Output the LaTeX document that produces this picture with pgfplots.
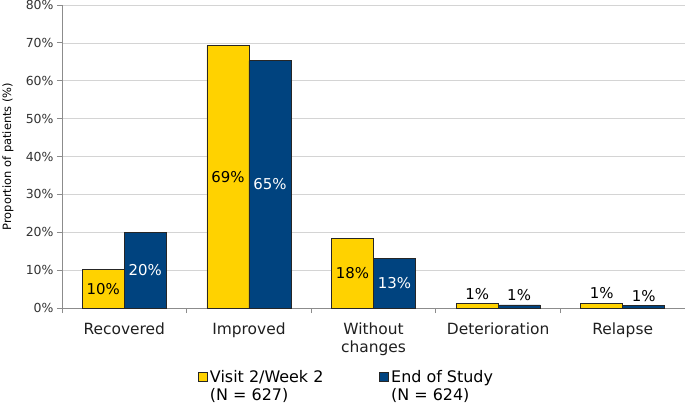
\documentclass[border=0pt]{standalone}
\usepackage{fontspec}
\setmainfont{DejaVu Sans}
\usepackage{pgfplots}
\pgfplotsset{compat=1.18}
\usepackage{pgfplotstable}

\definecolor{visit}{HTML}{FFD200}
\definecolor{eos}{HTML}{00437F}
\definecolor{axgray}{HTML}{8C8C8C}
\definecolor{gridgray}{HTML}{D4D4D4}

% proportion of patients (%), categories at 0..4
\pgfplotstableread{
x v
0 10.1
1 69.3
2 18.4
3 1.1
4 1.3
}\visit
\pgfplotstableread{
x v
0 20.0
1 65.3
2 13.2
3 0.8
4 0.6
}\eos

\begin{document}
\begin{tikzpicture}
\begin{axis}[
    scale only axis, width=623bp, height=303bp,
    xmin=-0.5, xmax=4.5, ymin=0, ymax=80,
    axis lines=left,
    axis line style={-, draw=axgray, line width=0.8bp},
    tick align=outside,
    xtick={0,...,4},
    xticklabels={Recovered, Improved, Without\\changes, Deterioration, Relapse},
    x tick label style={align=center, font=\fontsize{15.5}{18.5}\selectfont, text=black!88, yshift=-6bp},
    major x tick style={draw=none},
    minor xtick={-0.5,0.5,...,4.5},
    minor x tick style={draw=axgray, line width=0.8bp},
    minor tick length=5bp,
    major tick length=5bp,
    ytick={0,10,...,80},
    yticklabel={\pgfmathprintnumber{\tick}\%},
    y tick label style={font=\fontsize{12.5}{14}\selectfont, text=black!80},
    y tick style={draw=axgray, line width=0.8bp},
    /pgf/number format/assume math mode=true,
    ymajorgrids, grid style={draw=gridgray, line width=0.6bp},
    ylabel={Proportion of patients (\%)},
    every axis y label/.style={at={(axis description cs:-0.0867,0.5)}, rotate=90, anchor=center,
        font=\fontsize{11.5}{13}\selectfont},
    legend columns=2,
    legend style={at={(rel axis cs:0.2183,-0.20)}, anchor=north west, draw=none, fill=none,
        font=\fontsize{16}{18}\selectfont, inner sep=0pt,
        cells={align=left, anchor=base west},
        /tikz/every even column/.append style={column sep=54bp}},
]
\coordinate (o) at (rel axis cs:0,0);

\addplot[ybar, bar width=42bp, bar shift=-21bp, fill=visit, draw=black!85, line width=0.8bp,
    legend image code/.code={\draw[fill=visit, draw=black!85, line width=0.8bp] (0bp,19bp) rectangle (9bp,28bp);}]
    table[x=x, y=v]{\visit};
\addlegendentry{Visit 2/Week 2\\(N = 627)}
\addplot[ybar, bar width=42bp, bar shift=21bp, fill=eos, draw=black!85, line width=0.8bp,
    legend image code/.code={\draw[fill=eos, draw=black!85, line width=0.8bp] (0bp,19bp) rectangle (9bp,28bp);}]
    table[x=x, y=v]{\eos};
\addlegendentry{End of Study\\(N = 624)}

% value labels: centred in tall bars, above short ones
\pgfplotsset{lbl/.style={draw=none, forget plot, point meta=\thisrow{v},
    nodes near coords={\pgfmathprintnumber[fixed,precision=0]{\pgfplotspointmeta}\%},
    nodes near coords style={anchor=center, font=\fontsize{15}{17}\selectfont, text=#1}}}
\addplot[lbl=black, restrict expr to domain={\thisrow{v}}{5:100}]
    table[x expr=\thisrow{x}-0.1685, y expr=\thisrow{v}/2]{\visit};
\addplot[lbl=black, restrict expr to domain={\thisrow{v}}{0:5}]
    table[x expr=\thisrow{x}-0.1685, y expr=\thisrow{v}+2.6]{\visit};
\addplot[lbl=white, restrict expr to domain={\thisrow{v}}{5:100}]
    table[x expr=\thisrow{x}+0.1685, y expr=\thisrow{v}/2]{\eos};
\addplot[lbl=black, restrict expr to domain={\thisrow{v}}{0:5}]
    table[x expr=\thisrow{x}+0.1685, y expr=\thisrow{v}+2.6]{\eos};
\end{axis}
\pgfresetboundingbox
\path (o) ++(-62bp,-96bp) rectangle ++(685bp,404bp);
\end{tikzpicture}
\end{document}
